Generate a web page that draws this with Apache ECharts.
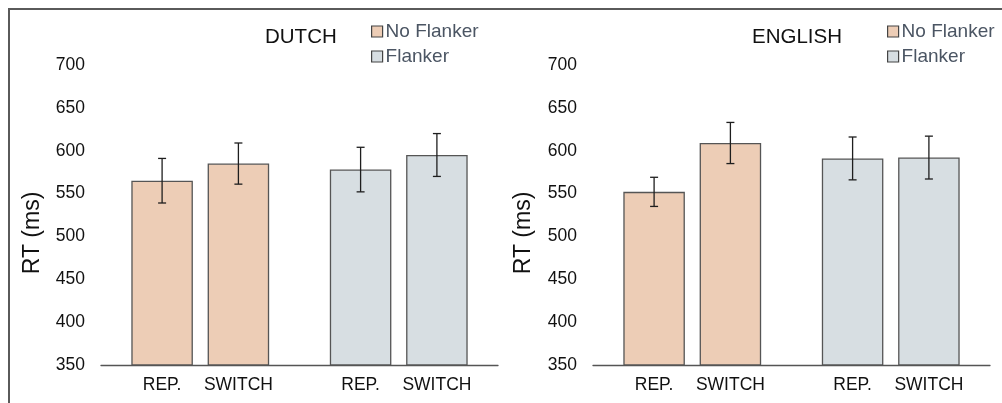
<!DOCTYPE html>
<html>
<head>
<meta charset="utf-8">
<script src="https://cdn.jsdelivr.net/npm/echarts@6/dist/echarts.min.js"></script>
<style>
  html, body { margin: 0; padding: 0; background: #fff; }
  #wrap { position: relative; width: 1002px; height: 403px; overflow: hidden; }
  #frame { position: absolute; left: 8px; top: 8px; width: 1100px; height: 500px;
           border-left: 2px solid #5a5a5a; border-top: 2px solid #5a5a5a; }
  #chart { position: absolute; left: 0; top: 0; width: 1002px; height: 403px; }
</style>
</head>
<body>
<div id="wrap">
  <div id="frame"></div>
  <div id="chart"></div>
</div>
<script>
// Mean reaction times (ms) per flanker group, index 0 = No Flanker, 1 = Flanker
const groups = ['No Flanker', 'Flanker'];
const conditions = ['REP.', 'SWITCH'];
const panelTitles = ['DUTCH', 'ENGLISH'];

const dutchRep = [565, 578];
const dutchSwitch = [585, 595];
const dutchRepErr = [26, 26];
const dutchSwitchErr = [24, 25];

const englishRep = [552, 591];
const englishSwitch = [609, 592];
const englishRepErr = [17, 25];
const englishSwitchErr = [24, 25];

const yMin = 350;
const yMax = 700;
const yStep = 50;

const groupColors = ['#EDCDB6', '#D7DEE2'];
const edgeColor = '#555555';
const font = 'Liberation Sans, Arial, Helvetica, sans-serif';

// Bar geometry as fractions of the category band
const BAR_W = 0.31;
const BAR_GAP = 0.24;
const centerOffset = (BAR_W + BAR_W * BAR_GAP) / 2;

const panels = [
  { rep: dutchRep, sw: dutchSwitch, repErr: dutchRepErr, swErr: dutchSwitchErr },
  { rep: englishRep, sw: englishSwitch, repErr: englishRepErr, swErr: englishSwitchErr }
];

const grids = [
  { left: 101, top: 65, width: 397, height: 300 },
  { left: 593, top: 65, width: 397, height: 300 }
];

const xAxes = grids.map((g, i) => ({
  type: 'category',
  gridIndex: i,
  data: groups,
  axisLine: { show: true, lineStyle: { color: '#555', width: 1.3 } },
  axisTick: { show: false },
  axisLabel: { show: false }
}));

const yAxes = grids.map((g, i) => ({
  type: 'value',
  gridIndex: i,
  min: yMin,
  max: yMax,
  interval: yStep,
  axisLine: { show: false },
  axisTick: { show: false },
  splitLine: { show: false },
  axisLabel: { color: '#111', fontSize: 17.5, fontFamily: font, margin: 16 }
}));

function barSeries(name, values, panelIdx) {
  return {
    type: 'bar',
    name: name,
    xAxisIndex: panelIdx,
    yAxisIndex: panelIdx,
    barWidth: (BAR_W * 100) + '%',
    barGap: (BAR_GAP * 100) + '%',
    data: values.map((v, k) => ({
      value: v,
      itemStyle: { color: groupColors[k], borderColor: edgeColor, borderWidth: 1.3 }
    })),
    label: {
      show: true,
      position: 'bottom',
      distance: 11,
      formatter: name,
      color: '#111',
      fontSize: 17.5,
      fontFamily: font
    },
    legendHoverLink: false,
    silent: true,
    z: 2
  };
}

function errorSeries(values, errs, sign, panelIdx) {
  return {
    type: 'custom',
    xAxisIndex: panelIdx,
    yAxisIndex: panelIdx,
    silent: true,
    z: 5,
    data: values.map((v, k) => [k, v - errs[k], v + errs[k]]),
    renderItem: function (params, api) {
      const band = api.size([1, 0])[0];
      const lo = api.coord([api.value(0), api.value(1)]);
      const hi = api.coord([api.value(0), api.value(2)]);
      const x = lo[0] + sign * band * centerOffset;
      const cap = 4;
      const st = { stroke: '#1e1e1e', lineWidth: 1.3 };
      return {
        type: 'group',
        children: [
          { type: 'line', shape: { x1: x, y1: lo[1], x2: x, y2: hi[1] }, style: st },
          { type: 'line', shape: { x1: x - cap, y1: lo[1], x2: x + cap, y2: lo[1] }, style: st },
          { type: 'line', shape: { x1: x - cap, y1: hi[1], x2: x + cap, y2: hi[1] }, style: st }
        ]
      };
    }
  };
}

const series = [];
panels.forEach((p, i) => {
  series.push(barSeries(conditions[0], p.rep, i));
  series.push(barSeries(conditions[1], p.sw, i));
  series.push(errorSeries(p.rep, p.repErr, -1, i));
  series.push(errorSeries(p.sw, p.swErr, 1, i));
});
// Empty series that carry the group names for the legends
groups.forEach((gname, k) => {
  series.push({ type: 'line', name: gname, data: [], xAxisIndex: 0, yAxisIndex: 0,
                itemStyle: { color: groupColors[k] } });
});

const legendPos = [{ left: 371, top: 22 }, { left: 887, top: 22 }];
const legends = legendPos.map(pos => ({
  orient: 'vertical',
  left: pos.left,
  top: pos.top,
  padding: 0,
  itemGap: 6,
  itemWidth: 11,
  itemHeight: 11,
  icon: 'rect',
  selectedMode: false,
  textStyle: { color: '#4b5563', fontSize: 19, fontFamily: font, padding: [0, 0, 0, -2] },
  data: groups.map((gname, k) => ({
    name: gname,
    icon: 'rect',
    itemStyle: { color: groupColors[k], borderColor: '#444', borderWidth: 1.2 }
  }))
}));

const titles = [
  { text: panelTitles[0], left: 265, top: 27 },
  { text: panelTitles[1], left: 752, top: 27 }
].map(t => Object.assign(t, {
  padding: 0,
  textStyle: { color: '#111', fontSize: 20.5, fontWeight: 'normal', fontFamily: font }
}));

// Rotated y-axis names
const axisNames = [{ x: 33, y: 233 }, { x: 524, y: 233 }].map(p => ({
  type: 'text',
  x: p.x,
  y: p.y,
  rotation: Math.PI / 2,
  silent: true,
  style: {
    text: 'RT (ms)',
    fill: '#111',
    font: '23px ' + font,
    align: 'center',
    verticalAlign: 'middle'
  }
}));

const chart = echarts.init(document.getElementById('chart'), null, { renderer: 'canvas' });
chart.setOption({
  backgroundColor: 'transparent',
  animation: false,
  title: titles,
  legend: legends,
  grid: grids,
  xAxis: xAxes,
  yAxis: yAxes,
  series: series,
  graphic: axisNames
});
</script>
</body>
</html>
